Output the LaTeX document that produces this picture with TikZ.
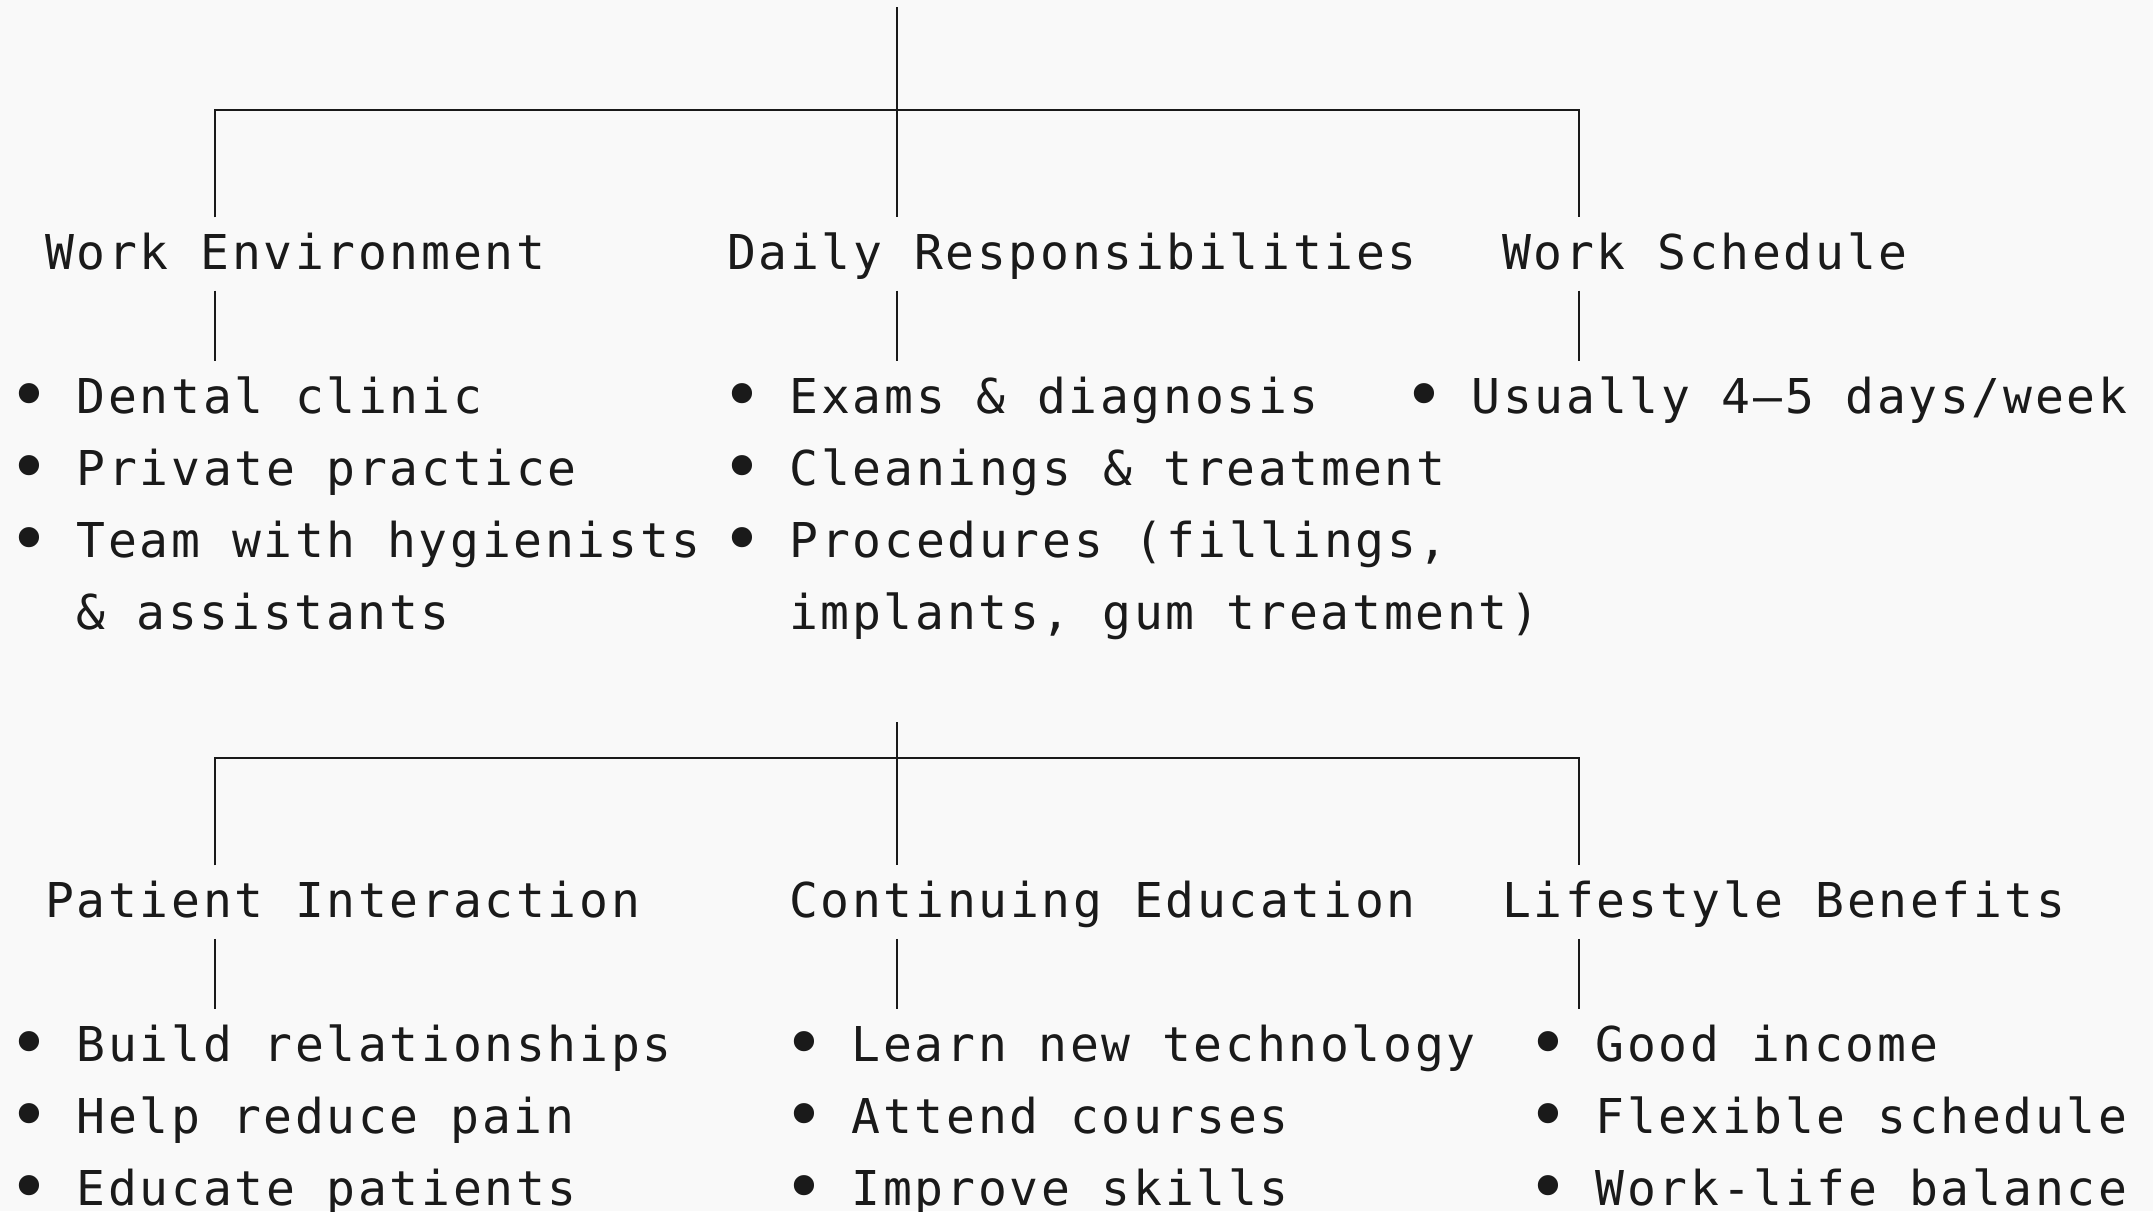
\documentclass[tikz,border=0pt]{standalone}
\usepackage{fontspec}
\usepackage{xcolor}
\usepackage{tikz}
\newfontfamily\asciifont{DejaVu Sans Mono}[LetterSpace=5.6]
\definecolor{paper}{HTML}{F9F9F9}
\definecolor{ink}{HTML}{1A1A1A}
\newcommand{\itm}{\makebox[0.31cm][c]{\raisebox{-0.06cm}{\scalebox{1.45}{•}}}}

\begin{document}
\begin{tikzpicture}[x=0.31cm,y=-0.72cm,
		txt/.style={anchor=base west,inner sep=0pt,text height=0.517cm,text depth=0.203cm,text=ink,font=\asciifont\fontsize{13.66pt}{17pt}\selectfont},
		branch/.style={draw=ink,line width=0.65pt}]
		\fill[paper] (-0.435,-0.028) rectangle (69.016,16.792);
		\useasboundingbox (-0.435,-0.028) rectangle (69.016,16.792);
		% first block
		\node[txt] (env) at (1,3.718) {Work Environment};
		\node[txt] (dly) at (23,3.718) {Daily Responsibilities};
		\node[txt] (sch) at (48,3.718) {Work Schedule};
		\node[txt] (env1) at (0,5.718) {\itm{} Dental clinic};
		\node[txt] (env2) at (0,6.718) {\itm{} Private practice};
		\node[txt] (env3) at (0,7.718) {\itm{} Team with hygienists};
		\node[txt] (env4) at (2,8.718) {\& assistants};
		\node[txt] (dly1) at (23,5.718) {\itm{} Exams \& diagnosis};
		\node[txt] (dly2) at (23,6.718) {\itm{} Cleanings \& treatment};
		\node[txt] (dly3) at (23,7.718) {\itm{} Procedures (fillings,};
		\node[txt] (dly4) at (25,8.718) {implants, gum treatment)};
		\node[txt] (sch1) at (45,5.718) {\itm{} Usually 4–5 days/week};
		\coordinate (root) at (28.5,0.07);
		\coordinate (bl) at (6.5,1.5);
		\coordinate (bm) at (28.5,1.5);
		\coordinate (br) at (50.5,1.5);
		\draw[branch] (bl |- env.north) -- (bl) -- (br) -- (br |- sch.north);
		\draw[branch] (root) -- (bm |- dly.north);
		\draw[branch] (bl |- env.south) -- (bl |- env1.north);
		\draw[branch] (bm |- dly.south) -- (bm |- dly1.north);
		\draw[branch] (br |- sch.south) -- (br |- sch1.north);
		% second block
		\node[txt] (pat) at (1,12.718) {Patient Interaction};
		\node[txt] (edu) at (25,12.718) {Continuing Education};
		\node[txt] (life) at (48,12.718) {Lifestyle Benefits};
		\node[txt] (pat1) at (0,14.718) {\itm{} Build relationships};
		\node[txt] (pat2) at (0,15.718) {\itm{} Help reduce pain};
		\node[txt] (pat3) at (0,16.718) {\itm{} Educate patients};
		\node[txt] (edu1) at (25,14.718) {\itm{} Learn new technology};
		\node[txt] (edu2) at (25,15.718) {\itm{} Attend courses};
		\node[txt] (edu3) at (25,16.718) {\itm{} Improve skills};
		\node[txt] (life1) at (49,14.718) {\itm{} Good income};
		\node[txt] (life2) at (49,15.718) {\itm{} Flexible schedule};
		\node[txt] (life3) at (49,16.718) {\itm{} Work-life balance};
		\coordinate (root2) at (28.5,10);
		\coordinate (cl) at (6.5,10.5);
		\coordinate (cm) at (28.5,10.5);
		\coordinate (cr) at (50.5,10.5);
		\draw[branch] (cl |- pat.north) -- (cl) -- (cr) -- (cr |- life.north);
		\draw[branch] (root2) -- (cm |- edu.north);
		\draw[branch] (cl |- pat.south) -- (cl |- pat1.north);
		\draw[branch] (cm |- edu.south) -- (cm |- edu1.north);
		\draw[branch] (cr |- life.south) -- (cr |- life1.north);
	\end{tikzpicture}
\end{document}
